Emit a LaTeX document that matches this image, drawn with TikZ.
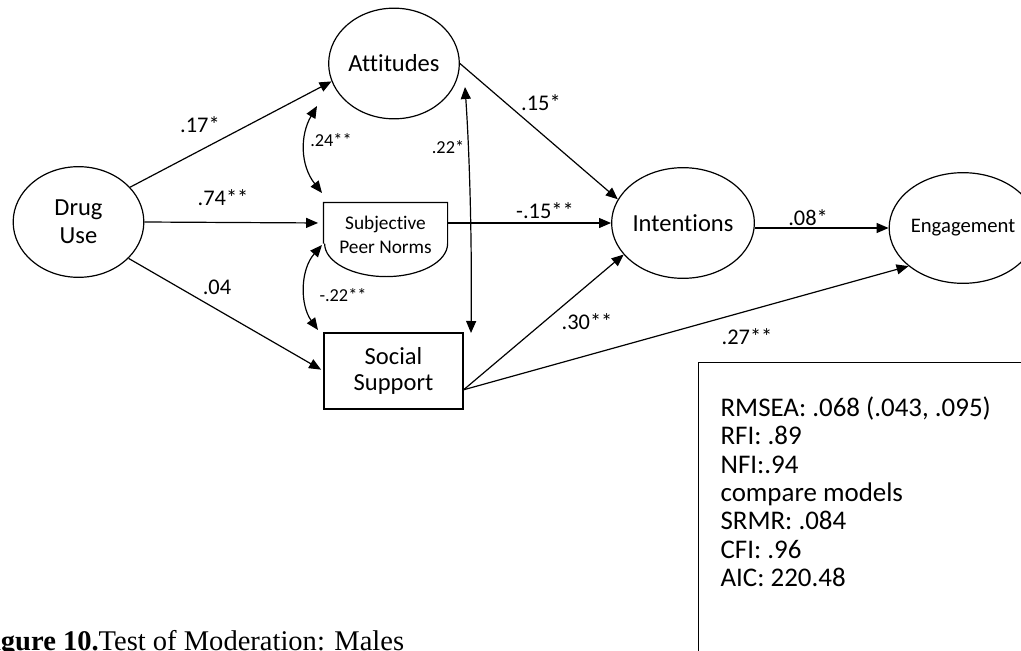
\documentclass[tikz,border=0pt]{standalone}
\usepackage{fontspec}
\setmainfont{Carlito}[Ligatures=NoCommon]
\newfontfamily\captionserif{Liberation Serif}
\usetikzlibrary{shapes.geometric,arrows.meta,positioning}

\tikzset{every picture/.style={line width=0.9pt}}
\tikzset{
	latent/.style={draw, ellipse, inner sep=0pt, minimum width=98pt, minimum height=83pt, align=center, font=\fontsize{18.4}{21}\selectfont},
	observed/.style={draw, rectangle, inner sep=0pt, minimum width=104.25pt, minimum height=57pt, align=center, font=\fontsize{18.4}{20}\selectfont},
	spnbox/.style={rectangle, inner sep=0pt, minimum width=92.25pt, minimum height=30pt},
	regarrow/.style={-{Triangle[length=9pt,width=7.5pt]}},
	covarrow/.style={{Triangle[length=9pt,width=7.5pt]}-{Triangle[length=9pt,width=7.5pt]}},
	coef/.style={inner sep=0pt, font=\fontsize{16.8}{19}\selectfont},
	smallcoef/.style={inner sep=0pt, font=\fontsize{13.7}{16}\selectfont},
	fitbox/.style={draw, rectangle, inner sep=0pt, minimum width=249pt, minimum height=223.5pt},
	fittext/.style={inner sep=0pt, align=left, font=\fontsize{20.2}{21.3}\selectfont}
}

\begin{document}
\begin{tikzpicture}[x=0.75pt,y=0.75pt,yscale=-1,xscale=1]
	\useasboundingbox (0,0) rectangle (1021,650);

	%Shape: Ellipse
	\node[latent] (drug) at (78.5,222) {Drug\\Use};
	%Shape: Ellipse
	\node[latent] (att) at (394,63.5) {Attitudes};
	%Shape: Ellipse
	\node[latent] (int) at (683,223) {Intentions};
	%Shape: Ellipse
	\node[latent, font=\fontsize{15.5}{18}\selectfont] (eng) at (963,228) {Engagement};
	%Shape: Rectangle
	\node[observed] (ss) at (393.5,371) {Social\\Support};
	%Shape: Rectangle with round bottom
	\node[spnbox] (spn) at (385.5,223) {};
	\draw (spn.south west) -- (spn.north west) -- (spn.north east) -- (spn.south east) arc[start angle=0, end angle=180, x radius=61.5, y radius=33];
	\node[align=center, inner sep=0pt, font=\fontsize{14.5}{18}\selectfont] (spnlbl) at (385.5,235) {Subjective\\Peer Norms};

	%Straight Lines
	\draw[regarrow] (drug.34) -- (att.196);
	\draw[regarrow, shorten >=4pt] (drug.east) -- (spn.west);
	\draw[regarrow, shorten >=2pt] (drug.-36) -- (ss.west);
	\draw[regarrow] (att.east) -- (int.160);
	\draw[regarrow] (spn.east) -- (int.west);
	\draw[regarrow] (ss.-15) -- (int.208);
	\draw[regarrow] (ss.-15) -- (eng.215);
	\draw[regarrow] (eng.west -| int.east) -- (eng.west);

	%Curve Lines
	\coordinate (cAttTop) at (317,106);
	\coordinate (cSpnTop) at (322,193);
	\coordinate (cSpnBot) at (322,245);
	\coordinate (cSsTop) at (318,330);
	\coordinate (cAttRight) at (465,87);
	\coordinate (cSsRight) at (471,333);
	\draw[covarrow] (cAttTop) .. controls (300,135) and (300,165) .. (cSpnTop);
	\draw[covarrow] (cSpnBot) .. controls (300,270) and (300,305) .. (cSsTop);
	\draw[covarrow] (cAttRight) .. controls (470,160) and (472,250) .. (cSsRight);

	% Text Node
	\node[coef] (bDrugAtt) at (200,125) {.17*};
	% Text Node
	\node[coef] (bDrugSpn) at (223,198) {.74**};
	% Text Node
	\node[coef] (bDrugSs) at (217,287) {.04};
	% Text Node
	\node[smallcoef] (rAttSpn) at (331,140) {.24**};
	% Text Node
	\node[smallcoef] (rSpnSs) at (343,295) {-.22**};
	% Text Node
	\node[smallcoef] (rAttSs) at (448,147) {.22*};
	% Text Node
	\node[coef] (bAttInt) at (541,103) {.15*};
	% Text Node
	\node[coef] (bSpnInt) at (545,211) {-.15**};
	% Text Node
	\node[coef] (bIntEng) at (808,218) {.08*};
	% Text Node
	\node[coef] (bSsInt) at (587,322) {.30**};
	% Text Node
	\node[coef] (bSsEng) at (747,337) {.27**};

	%Shape: Rectangle
	\node[fitbox, anchor=north west] (fit) at (698,362) {};
	% Text Node
	\node[fittext, anchor=north west] (fitlbl) at (720,396) {RMSEA: .068 (.043, .095)\\RFI: .89\\NFI:.94\\compare models\\SRMR: .084\\CFI: .96\\AIC: 220.48};

	% Text Node
	\node[anchor=base west, inner sep=0pt, font=\captionserif\fontsize{21.4}{24}\selectfont] (caption) at (-25,650) {\textbf{Figure 10.}Test of Moderation: Males};
\end{tikzpicture}
\end{document}
